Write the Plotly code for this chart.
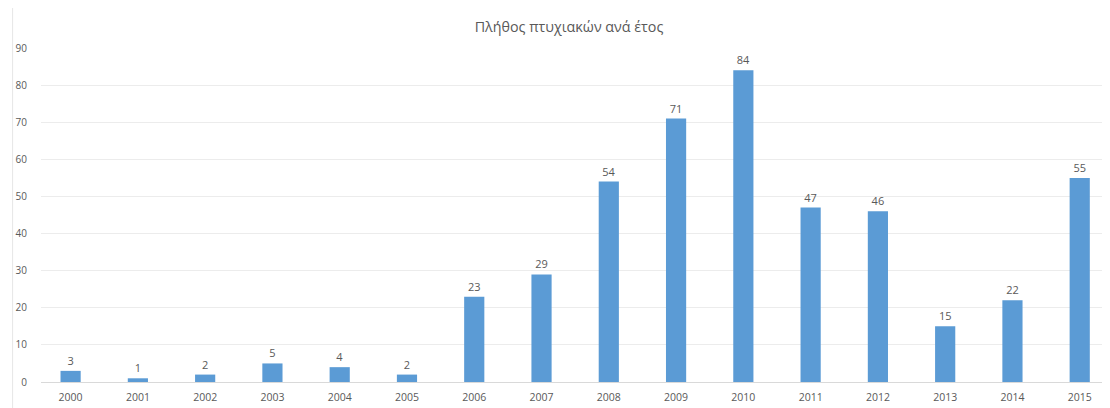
import plotly.graph_objects as go

years = ["2000", "2001", "2002", "2003", "2004", "2005", "2006", "2007",
         "2008", "2009", "2010", "2011", "2012", "2013", "2014", "2015"]
counts = [3, 1, 2, 5, 4, 2, 23, 29, 54, 71, 84, 47, 46, 15, 22, 55]
y_ticks = [0, 10, 20, 30, 40, 50, 60, 70, 80, 90]

# page body has an 8px margin; margins below compensate for it
W, H = 1110, 408
ML, MR, MT, MB = 29, 8, 40, 34
PW = W - ML - MR
PH = H - MT - MB

label_font = dict(family="Open Sans", size=11, color="#595959")

fig = go.Figure(go.Bar(
    x=years, y=counts,
    marker=dict(color="#5B9BD5", line=dict(width=0)),
    text=[str(c) for c in counts],
    textposition="outside",
    textfont=label_font,
    outsidetextfont=label_font,
    constraintext="none",
    cliponaxis=False,
))

fig.update_layout(
    width=W, height=H,
    margin=dict(l=ML, r=MR, t=MT, b=MB),
    paper_bgcolor="white", plot_bgcolor="white",
    bargap=0.7,
    showlegend=False,
    title=dict(text="Πλήθος πτυχιακών ανά έτος", x=(567 - 8 - ML) / PW,
               xref="paper", xanchor="center",
               y=1 - 19 / H, yanchor="middle",
               font=dict(family="Open Sans", size=14.3, color="#595959")),
    font=dict(family="Open Sans", size=10, color="#595959"),
    xaxis=dict(type="category", range=[-0.44, 15.45], showgrid=False,
               showline=False, ticks="", tickfont=dict(size=10.5, color="#595959"),
               ticklabelstandoff=7, fixedrange=True),
    yaxis=dict(range=[0, 90], tickvals=y_ticks, showgrid=True,
               gridcolor="#ECECEC", gridwidth=1, zeroline=True,
               zerolinecolor="#D9D9D9", zerolinewidth=1, showline=False,
               ticks="", tickfont=dict(size=10, color="#595959"),
               ticklabelstandoff=13),
    shapes=[dict(type="line", xref="paper", yref="paper",
                 x0=(0.5 - ML) / PW, x1=(0.5 - ML) / PW,
                 y0=-MB / PH, y1=1 + MT / PH,
                 line=dict(color="#E6E6E6", width=1))],
)

fig.write_html("out.html")
